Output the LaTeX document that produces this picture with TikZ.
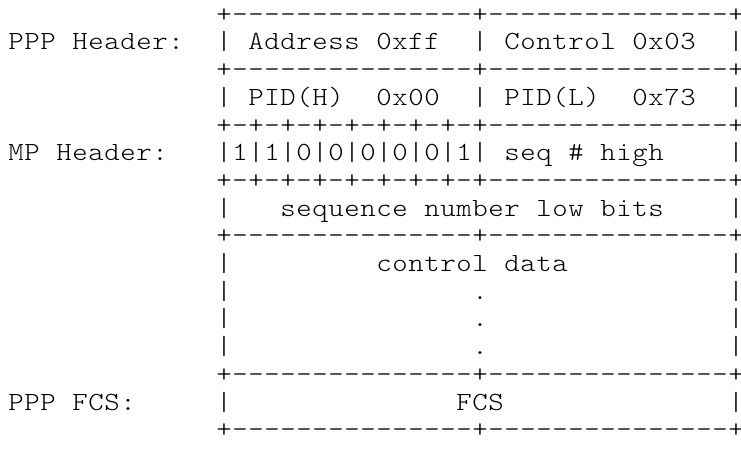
\documentclass[tikz,border=0pt]{standalone}
\usepackage{fontspec}
\usepackage{graphicx}
\newlength{\cellw}
\setlength{\cellw}{16pt}
\makeatletter
\newcommand{\gridrow}[1]{\gr@#1\gr@end}
\def\gr@end{\gr@end}
\def\gr@#1{\ifx\gr@end#1\expandafter\@gobble\else\expandafter\@firstofone\fi
  {\makebox[\cellw][c]{\scalebox{1.12}[1]{#1}}\gr@}}
\makeatother
\newcommand{\asciifont}{\ttfamily\fontseries{l}\fontsize{26.2pt}{27.7pt}\selectfont}
\begin{document}
\begin{tikzpicture}[x=1pt,y=-1pt,
  asciirow/.style={anchor=base west, inner sep=0pt, outer sep=0pt, font=\asciifont, text=black}]
\fill[white] (0,0) rectangle (741,461);
\useasboundingbox (0,0) rectangle (741,461);
\node[asciirow] (r0)  at (8,22.2)  {\gridrow{~~~~~~~~~~~~~+---------------+---------------+}};
\node[asciirow] (r1)  at (8,49.9)  {\gridrow{PPP~Header:~~|~Address~0xff~~|~Control~0x03~~|}};
\node[asciirow] (r2)  at (8,77.6)  {\gridrow{~~~~~~~~~~~~~+---------------+---------------+}};
\node[asciirow] (r3)  at (8,105.3) {\gridrow{~~~~~~~~~~~~~|~PID(H)~~0x00~~|~PID(L)~~0x73~~|}};
\node[asciirow] (r4)  at (8,133.0) {\gridrow{~~~~~~~~~~~~~+-+-+-+-+-+-+-+-+---------------+}};
\node[asciirow] (r5)  at (8,160.7) {\gridrow{MP~Header:~~~|1|1|0|0|0|0|0|1|~seq~\#~high~~~~|}};
\node[asciirow] (r6)  at (8,188.4) {\gridrow{~~~~~~~~~~~~~+-+-+-+-+-+-+-+-+---------------+}};
\node[asciirow] (r7)  at (8,216.1) {\gridrow{~~~~~~~~~~~~~|~~~sequence~number~low~bits~~~~|}};
\node[asciirow] (r8)  at (8,243.8) {\gridrow{~~~~~~~~~~~~~+---------------+---------------+}};
\node[asciirow] (r9)  at (8,271.5) {\gridrow{~~~~~~~~~~~~~|~~~~~~~~~control~data~~~~~~~~~~|}};
\node[asciirow] (r10) at (8,299.2) {\gridrow{~~~~~~~~~~~~~|~~~~~~~~~~~~~~~.~~~~~~~~~~~~~~~|}};
\node[asciirow] (r11) at (8,326.9) {\gridrow{~~~~~~~~~~~~~|~~~~~~~~~~~~~~~.~~~~~~~~~~~~~~~|}};
\node[asciirow] (r12) at (8,354.6) {\gridrow{~~~~~~~~~~~~~|~~~~~~~~~~~~~~~.~~~~~~~~~~~~~~~|}};
\node[asciirow] (r13) at (8,382.3) {\gridrow{~~~~~~~~~~~~~+---------------+---------------+}};
\node[asciirow] (r14) at (8,410.0) {\gridrow{PPP~FCS:~~~~~|~~~~~~~~~~~~~~FCS~~~~~~~~~~~~~~|}};
\node[asciirow] (r15) at (8,437.7) {\gridrow{~~~~~~~~~~~~~+---------------+---------------+}};
\end{tikzpicture}
\end{document}
